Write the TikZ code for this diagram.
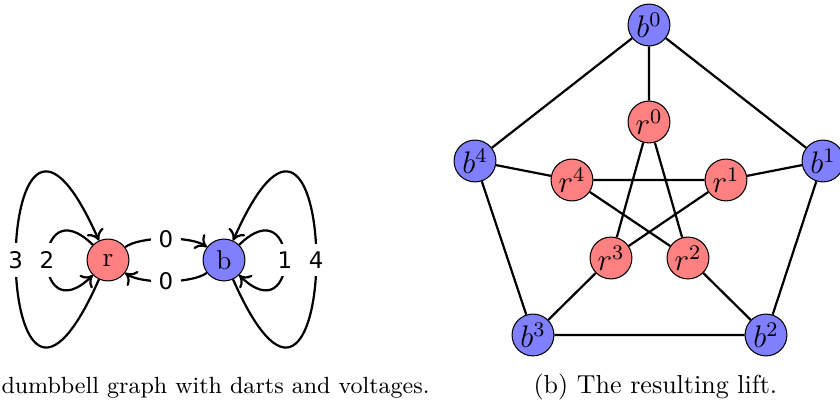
\documentclass[tikz,border=0pt]{standalone}
\usepackage{fontspec}
\newfontfamily\labfont{DejaVu Sans}
\usetikzlibrary{arrows.meta}
\definecolor{rfill}{HTML}{FF8080}
\definecolor{bfill}{HTML}{8080FF}
\begin{document}
\begin{tikzpicture}[x=0.3846pt,y=-0.3846pt,
  vtx/.style={circle,draw,line width=0.4pt,minimum size=16.1pt,inner sep=0pt},
  rv/.style={vtx,fill=rfill},
  bv/.style={vtx,fill=bfill},
  smallv/.style={font=\fontsize{10.5}{12}\selectfont},
  bigv/.style={font=\fontsize{11.5}{14}\selectfont},
  edge/.style={line width=0.85pt},
  dart/.style={line width=0.85pt,-{To[length=4pt,width=7pt]}},
  lab/.style={fill=white,inner sep=3.1pt,font=\labfont\fontsize{8.8}{10}\selectfont},
  capt/.style={inner sep=0pt}]
\useasboundingbox (0,0) rectangle (840,403);

% ---- (a) dumbbell graph ----
\node[rv,smallv] (r) at (108,260) {r};
\node[bv,smallv] (b) at (224,260) {b};

\draw[dart] (r.245) .. controls (-12,530) and (-12,-10) .. (r.115) node[lab,pos=.5] {3};
\draw[dart] (r.135) .. controls (31.7,185) and (31.7,335) .. (r.225) node[lab,pos=.5] {2};
\draw[dart] (b.295) .. controls (344,530) and (344,-10) .. (b.65) node[lab,pos=.5] {4};
\draw[dart] (b.45) .. controls (300.3,185) and (300.3,335) .. (b.315) node[lab,pos=.5] {1};
\draw[dart] (r) .. controls (140,236) and (192,236) .. (b) node[lab,pos=.5] {0};
\draw[dart] (b) .. controls (192,284) and (140,284) .. (r) node[lab,pos=.5] {0};

\node[capt,anchor=base west,font=\fontsize{9.0}{11}\selectfont] (capa) at (1,394) {dumbbell graph with darts and voltages.};

% ---- (b) the lift ----
\node[bv,bigv] (b0) at (649,25) {$b^0$};
\node[bv,bigv] (b1) at (823,161) {$b^1$};
\node[bv,bigv] (b2) at (766,335) {$b^2$};
\node[bv,bigv] (b3) at (533,335) {$b^3$};
\node[bv,bigv] (b4) at (475,161) {$b^4$};
\node[rv,bigv] (r0) at (649,122) {$r^0$};
\node[rv,bigv] (r1) at (726,180) {$r^1$};
\node[rv,bigv] (r2) at (688,258) {$r^2$};
\node[rv,bigv] (r3) at (611,258) {$r^3$};
\node[rv,bigv] (r4) at (572,180) {$r^4$};

\draw[edge] (b0) -- (b1) (b1) -- (b2) (b2) -- (b3) (b3) -- (b4) (b4) -- (b0);
\draw[edge] (b0) -- (r0) (b1) -- (r1) (b2) -- (r2) (b3) -- (r3) (b4) -- (r4);
\draw[edge] (r0) -- (r2) (r2) -- (r4) (r4) -- (r1) (r1) -- (r3) (r3) -- (r0);

\node[capt,anchor=base west,font=\fontsize{10}{12}\selectfont] (capb) at (533,394) {(b) The resulting lift.};
\end{tikzpicture}
\end{document}
